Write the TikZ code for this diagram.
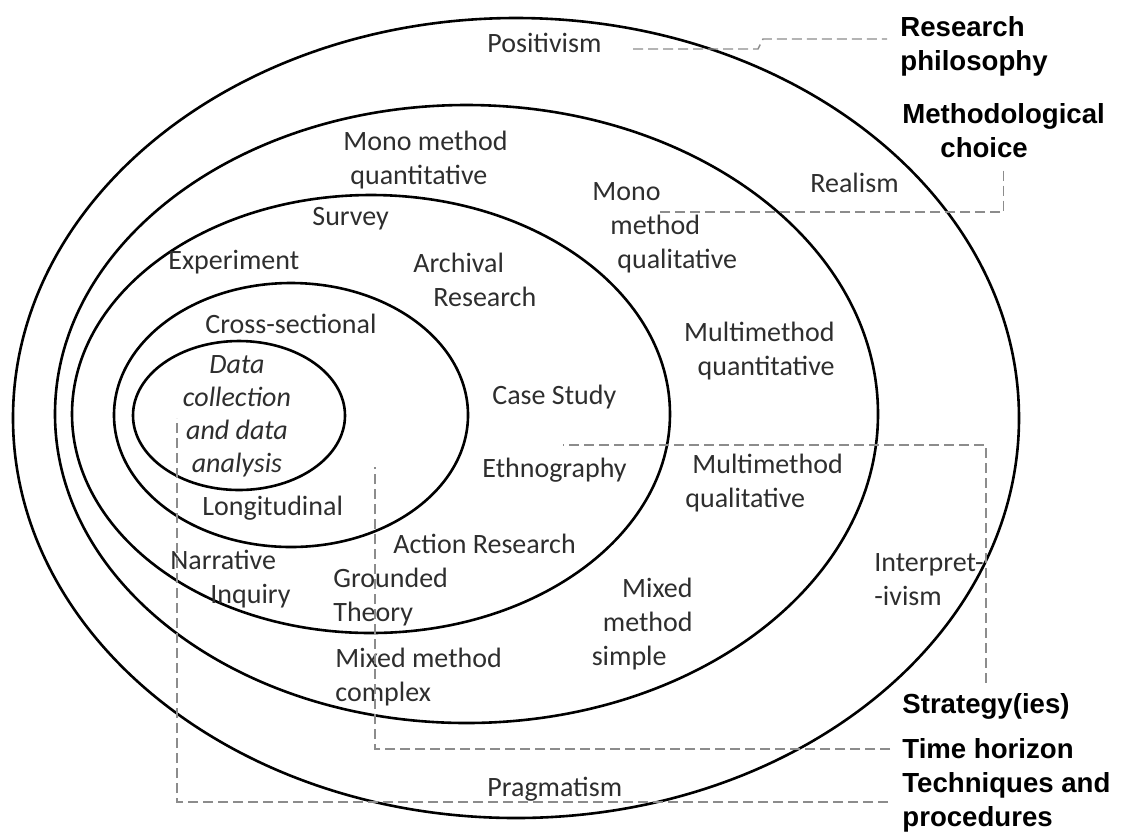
\documentclass[tikz,border=0pt]{standalone}
\usepackage{fontspec}
\setmainfont{Carlito}
\newfontfamily\headfont{Liberation Sans}
\tikzset{
  ring/.style={line width=1.3pt},
  guide/.style={black!45, line width=0.7pt, dash pattern=on 5pt off 2.5pt},
  lbl/.style={inner sep=0pt, anchor=west, align=left, text=black!82,
    font=\fontsize{14}{17}\selectfont},
  head/.style={inner sep=0pt, anchor=west, align=left, text=black,
    font=\headfont\bfseries\fontsize{13.8}{17}\selectfont},
}
\begin{document}
\begin{tikzpicture}[x=0.5pt,y=-0.5pt]
  \useasboundingbox (0,0) rectangle (1125,832);
  % the onion, outside in
  \draw[ring] (516,418) ellipse [x radius=251.5pt, y radius=200pt];
  \draw[ring] (466.5,414) ellipse [x radius=205.75pt, y radius=154.5pt];
  \draw[ring] (371,414) ellipse [x radius=149.5pt, y radius=109.5pt];
  \draw[ring] (291,415) ellipse [x radius=88.5pt, y radius=66pt];
  \draw[ring] (239,415.5) ellipse [x radius=53pt, y radius=37.25pt];

  % layer labels
  \node[lbl] (posi) at (487,43) {Positivism};
  \node[lbl] (monoqn) at (343,160) {Mono method\\\hspace*{3.5pt}quantitative};
  \node[lbl] (monoql) at (592,228) {Mono\\\hspace*{9pt}method\\\hspace*{12.5pt}qualitative};
  \node[lbl] (real) at (810,183) {Realism};
  \node[lbl] (surv) at (312,219) {Survey};
  \node[lbl] (expe) at (168,262) {Experiment};
  \node[lbl] (arch) at (413,280) {Archival\\\hspace*{10pt}Research};
  \node[lbl] (cross) at (205,324) {Cross-sectional};
  \node[lbl, anchor=center, align=center, font=\itshape\fontsize{14}{16.5}\selectfont] (dcoll) at (237,416) {Data\\collection\\and data\\analysis};
  \node[lbl, anchor=east, align=right] (multqn) at (835,351) {Multimethod\\quantitative};
  \node[lbl] (case) at (492,397) {Case Study};
  \node[lbl] (ethno) at (482,470) {Ethnography};
  \node[lbl] (multql) at (685,483) {\hspace*{3.5pt}Multimethod\\qualitative};
  \node[lbl] (longi) at (202,508) {Longitudinal};
  \node[lbl] (action) at (393,544) {Action Research};
  \node[lbl] (narr) at (170,579) {Narrative\\\hspace*{20pt}Inquiry};
  \node[lbl] (ground) at (333,597) {Grounded\\Theory};
  \node[lbl] (interp) at (874,580) {Interpret-\\-ivism};
  \node[lbl, anchor=east, align=right] (mixs) at (693,624) {Mixed\\method\\simple\hspace*{13pt}};
  \node[lbl] (mixc) at (335,677) {Mixed method\\complex};
  \node[lbl] (prag) at (487,789) {Pragmatism};

  % onion names on the right
  \node[head] (rphil) at (900,46) {Research\\philosophy};
  \node[head] (mchoice) at (902,131) {Methodological\\\hspace*{19pt}choice};
  \node[head] (strat) at (902,706) {Strategy(ies)};
  \node[head] (timeh) at (902,749) {Time horizon};
  \node[head] (techp) at (902,802) {Techniques and\\procedures};

  % leader lines
  \coordinate (rp0) at (633,49);
  \coordinate (mc0) at (658,212);
  \coordinate (sg0) at (563,445);
  \coordinate (th0) at (375,467);
  \coordinate (tp0) at (177,418);
  \draw[guide] (rp0) -- ++(125,0) -- ++(5,-10) -- ([xshift=-6.5pt,yshift=3.5pt]rphil.west);
  \draw[guide] ([yshift=-6pt]mchoice.south) |- (mc0);
  \draw[guide] ([yshift=5pt]strat.north) |- (sg0);
  \draw[guide] ([xshift=-6pt]timeh.west) -| (th0);
  \draw[guide] ([xshift=-7pt]techp.west) -| (tp0);
\end{tikzpicture}
\end{document}
